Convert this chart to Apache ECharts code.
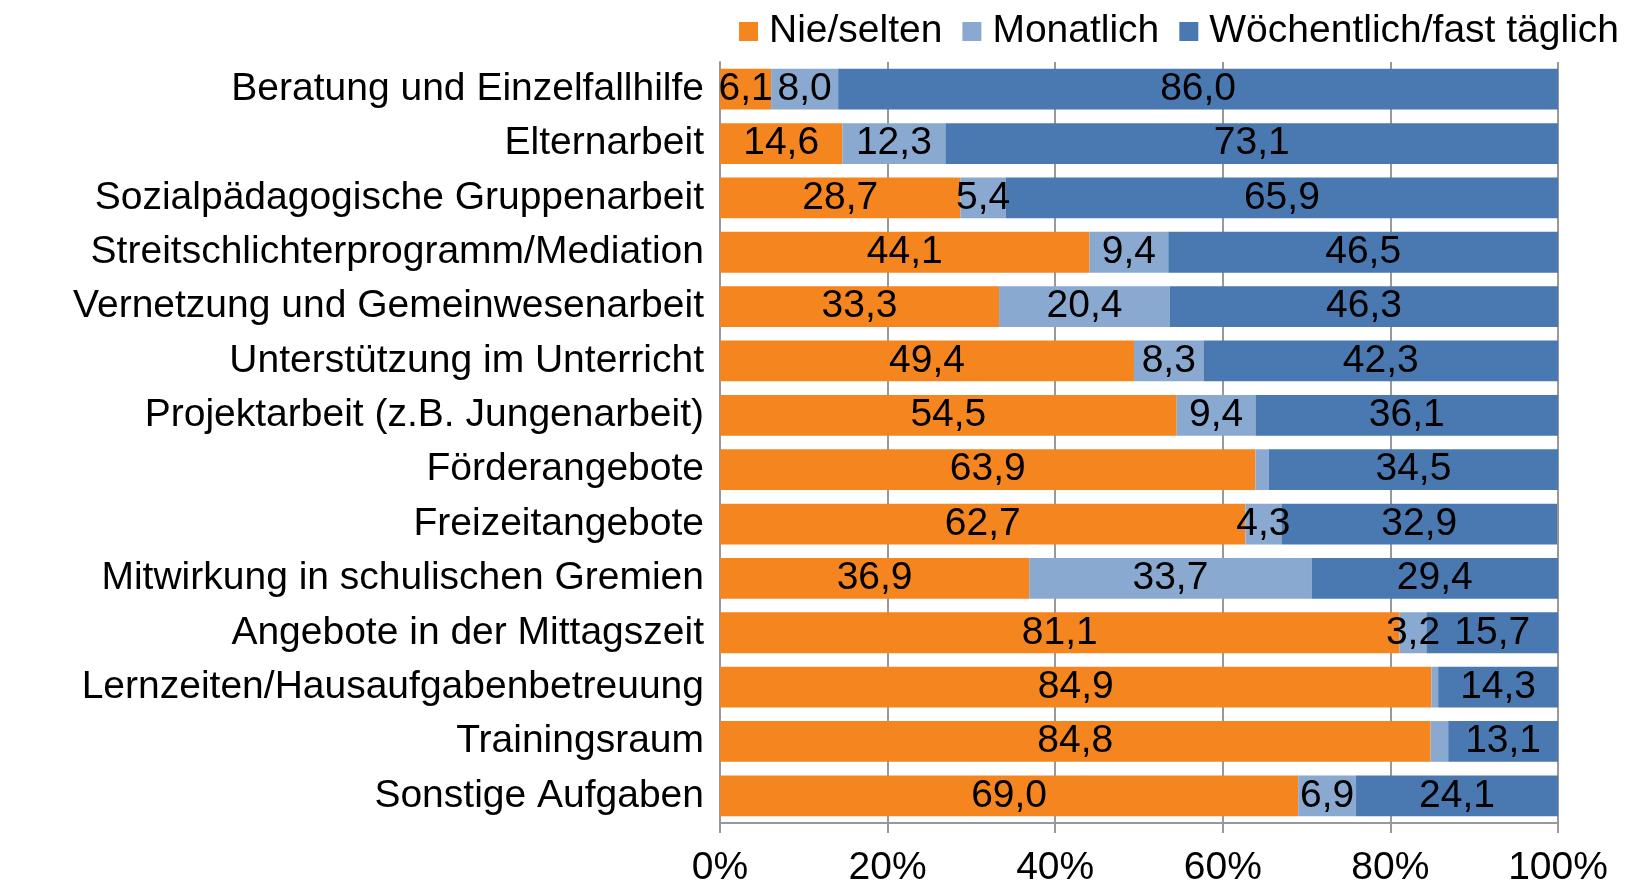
<!DOCTYPE html>
<html><head><meta charset="utf-8">
<script src="https://cdn.jsdelivr.net/npm/echarts@6/dist/echarts.min.js"></script>
<style>html,body{margin:0;padding:0;background:#fff}#c{width:1638px;height:888px}</style>
</head><body><div id="c"></div>
<script>
const categories = ["Beratung und Einzelfallhilfe","Elternarbeit","Sozialpädagogische Gruppenarbeit","Streitschlichterprogramm/Mediation","Vernetzung und Gemeinwesenarbeit","Unterstützung im Unterricht","Projektarbeit (z.B. Jungenarbeit)","Förderangebote","Freizeitangebote","Mitwirkung in schulischen Gremien","Angebote in der Mittagszeit","Lernzeiten/Hausaufgabenbetreuung","Trainingsraum","Sonstige Aufgaben"];
const nieSelten = [6.1,14.6,28.7,44.1,33.3,49.4,54.5,63.9,62.7,36.9,81.1,84.9,84.8,69.0];
const monatlich = [8.0,12.3,5.4,9.4,20.4,8.3,9.4,1.6,4.3,33.7,3.2,0.8,2.1,6.9];
const woechentlich = [86.0,73.1,65.9,46.5,46.3,42.3,36.1,34.5,32.9,29.4,15.7,14.3,13.1,24.1];
const hiddenLabelMonatlich = [false,false,false,false,false,false,false,true,false,false,false,true,true,false];
const xTicks = [0,20,40,60,80,100];

const FONT = '"Liberation Sans", Arial, sans-serif';
const FS = 39;
const fmt = v => v.toFixed(1).replace('.', ',');
function mk(name, vals, color, hide){
  return {
    name, type:'bar', stack:'s', barCategoryGap:'25%',
    itemStyle:{color},
    label:{show:true, position:'inside', color:'#000', fontFamily:FONT, fontSize:FS,
      formatter:p=>fmt(p.value)},
    data: vals.map((v,i)=> (hide && hide[i]) ? {value:v, label:{show:false}} : v)
  };
}
const chart = echarts.init(document.getElementById('c'));
chart.setOption({
  animation:false,
  textStyle:{fontFamily:FONT},
  legend:{
    top:7, right:14, icon:'rect', itemWidth:19, itemHeight:19, itemGap:20,
    textStyle:{fontSize:FS, color:'#000', fontFamily:FONT, padding:[0,0,0,6]},
    data:['Nie/selten','Monatlich','Wöchentlich/fast täglich']
  },
  grid:{left:720, right:80, top:62, bottom:65, containLabel:false},
  xAxis:{
    type:'value', min:0, max:100, interval:20,
    axisLine:{show:true, lineStyle:{color:'#999', width:2}},
    axisTick:{show:true, length:10, lineStyle:{color:'#999', width:2}},
    splitLine:{show:true, lineStyle:{color:'#999', width:2}},
    axisLabel:{fontSize:FS, color:'#000', margin:26, fontFamily:FONT,
      formatter:v=> xTicks.includes(v) ? v+'%' : ''}
  },
  yAxis:{
    type:'category', inverse:true, data:categories,
    axisLine:{show:true, lineStyle:{color:'#999', width:2}},
    axisTick:{show:false},
    axisLabel:{fontSize:FS, color:'#000', margin:16, fontFamily:FONT, padding:[12,0,0,0]}
  },
  series:[
    mk('Nie/selten', nieSelten, '#F5851F'),
    mk('Monatlich', monatlich, '#8AA9D0', hiddenLabelMonatlich),
    mk('Wöchentlich/fast täglich', woechentlich, '#4A78B0')
  ]
});
</script></body></html>
